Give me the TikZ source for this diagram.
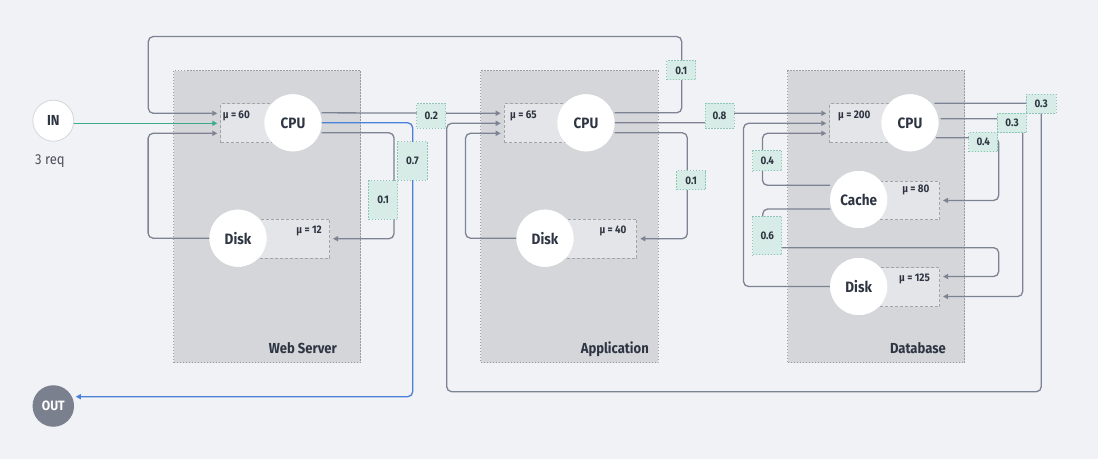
\documentclass[tikz,border=0pt]{standalone}
\usepackage{fontspec}
\setmainfont{Fira Sans}[FakeStretch=0.9, BoldFont={Fira Sans Bold}]
\usetikzlibrary{arrows.meta,calc}

\definecolor{bg}{HTML}{F0F2F6}
\definecolor{panelfill}{HTML}{D5D6DA}
\definecolor{panelline}{HTML}{9A9CA3}
\definecolor{mufill}{HTML}{E4E5E9}
\definecolor{muline}{HTML}{A2A4AB}
\definecolor{wire}{HTML}{7C8392}
\definecolor{tealwire}{RGB}{60,168,140}
\definecolor{outwire}{HTML}{4B80D6}
\definecolor{probfill}{HTML}{D7ECE6}
\definecolor{probline}{HTML}{8CC6B6}
\definecolor{ink}{HTML}{2E3542}
\definecolor{outfill}{HTML}{7A808E}
\definecolor{inborder}{HTML}{D3D6DD}
\definecolor{subtext}{HTML}{4B505B}

\tikzset{
  panel/.style={draw=panelline, fill=panelfill, line width=1pt,
    dash pattern=on 1.5pt off 1.5pt, inner sep=0pt, anchor=north west},
  mubox/.style={draw=muline, fill=mufill, line width=1pt,
    dash pattern=on 3pt off 2pt, inner sep=0pt, anchor=north west,
    minimum width=80pt, minimum height=39pt},
  mutext/.style={text=ink, font=\bfseries\fontsize{11}{13}\selectfont, inner sep=0pt},
  title/.style={text=ink, font=\bfseries\fontsize{14.5}{17}\selectfont, inner sep=0pt, anchor=base east},
  station/.style={circle, fill=white, inner sep=0pt, minimum size=57pt,
    text=ink, font=\bfseries\fontsize{15}{18}\selectfont},
  prob/.style={draw=probline, fill=probfill, line width=1pt,
    dash pattern=on 1.5pt off 1.5pt, inner sep=0pt,
    text=ink, font=\bfseries\fontsize{11}{13}\selectfont},
  flow/.style={draw=wire, line width=1.3pt, rounded corners=5pt,
    -{Triangle[length=5pt,width=5pt]}, shorten >=3pt},
  departures/.style={draw=outwire, line width=1.3pt, rounded corners=5pt,
    -{Triangle[length=5pt,width=5pt]}},
}

\begin{document}
\begin{tikzpicture}[x=1pt,y=-1pt]
\fill[bg] (0,0) rectangle (1098,459);
\useasboundingbox (0,0) rectangle (1098,459);

% tiers
\node[panel, minimum width=187pt, minimum height=292pt] (webPanel) at (173,70) {};
\node[panel, minimum width=177.5pt, minimum height=292pt] (appPanel) at (480,70) {};
\node[panel, minimum width=177pt, minimum height=292pt] (dbPanel) at (787,70) {};

\node[title] (webTitle) at (337,353) {Web Server};
\node[title] (appTitle) at (649,353) {Application};
\node[title] (dbTitle) at (946,353) {Database};

% service-rate boxes
\node[mubox] (muCpuW) at (220.3,103.3) {};
\node[mubox] (muDiskW) at (249,218.7) {};
\node[mubox] (muCpuA) at (503.7,103.3) {};
\node[mubox] (muDiskA) at (556.3,218.7) {};
\node[mubox] (muCpuD) at (829.3,103.3) {};
\node[mubox, minimum height=38.5pt] (muCacheD) at (859,180.7) {};
\node[mubox] (muDiskD) at (859,267) {};

\node[mutext, anchor=west] (muTxtCpuW) at (222.7,116) {μ = 60};
\node[mutext, anchor=east] (muTxtDiskW) at (322,231) {μ = 12};
\node[mutext, anchor=west] (muTxtCpuA) at (510,116) {μ = 65};
\node[mutext, anchor=east] (muTxtDiskA) at (626.7,231) {μ = 40};
\node[mutext, anchor=west] (muTxtCpuD) at (838,116) {μ = 200};
\node[mutext, anchor=east] (muTxtCacheD) at (929.7,189.5) {μ = 80};
\node[mutext, anchor=east] (muTxtDiskD) at (930,279) {μ = 125};

% station centres
\path (293,122.8) coordinate (cpuWc) (238,238.2) coordinate (diskWc)
      (586,122.8) coordinate (cpuAc) (545,238.2) coordinate (diskAc)
      (910,122.8) coordinate (cpuDc) (858.7,199.5) coordinate (cacheDc)
      (858.7,286.5) coordinate (diskDc);
\node[station] (cpuW) at (cpuWc) {};
\node[station] (diskW) at (diskWc) {};
\node[station] (cpuA) at (cpuAc) {};
\node[station] (diskA) at (diskAc) {};
\node[station] (cpuD) at (cpuDc) {};
\node[station] (cacheD) at (cacheDc) {};
\node[station] (diskD) at (diskDc) {};

\node[circle, fill=white, draw=inborder, line width=0.8pt, inner sep=0pt, minimum size=41pt,
      text=ink, font=\bfseries\fontsize{14.5}{17}\selectfont] (src) at (53.3,120.7) {IN};
\node[text=subtext, font=\fontsize{14.5}{17}\selectfont, inner sep=0pt] (srcRate) at (50,161.5) {3 req};
\node[circle, fill=outfill, inner sep=0pt, minimum size=41.5pt,
      text=white, font=\bfseries\fontsize{13.5}{16}\selectfont] (sink) at (53.3,406) {OUT};

\path (719.5,115.7) coordinate (p08c);

% wires
\draw[flow] ($(cpuA.east)+(0,-10)$) -| (681.7,36.5) -- (148.3,36.5) |- ($(muCpuW.west)+(0,-10)$);
\draw[flow] (diskW.west) -- ++(-61.2,0) |- ($(muCpuW.west)+(0,10)$);
\draw[flow] ($(cpuW.east)+(0,-10)$) -- ($(muCpuA.west)+(0,-10)$);
\draw[departures] (cpuW.east) -| (412.7,396.7) -- ($(sink.center)+(22.5,-9.3)$);
\draw[flow] ($(cpuW.east)+(0,10)$) -| ($(muDiskW.east)+(64,0)$) -- (muDiskW.east);

\draw[flow] ($(cpuDc)+(24.3,-19.5)$) -| (1041.3,391.7) -| ($(muCpuA.west)+(-57,0)$) -- (muCpuA.west);
\draw[flow] (diskA.west) -- ++(-50.8,0) |- ($(muCpuA.west)+(0,10)$);
\draw[flow] (cpuA.east) -| (p08c) |- ($(muCpuD.west)+(0,-10)$);
\draw[flow] ($(cpuA.east)+(0,10)$) -| ($(muDiskA.east)+(50,0)$) -- (muDiskA.east);

\draw[flow] ($(cacheD.west)+(0,-14.2)$) -- ++(-67.5,0) |- ($(muCpuD.west)+(0,10)$);
\draw[flow] (diskD.west) -- ++(-86.5,0) |- (muCpuD.west);
\draw[flow] ($(cpuDc)+(26,14.9)$) -| ($(muCacheD.east)+(58.7,0)$) -- (muCacheD.east);
\draw[flow] ($(cpuD.east)+(2,-4.1)$) -| ($(muDiskD.east)+(82.7,9.5)$) -- ($(muDiskD.east)+(0,9.5)$);
\draw[flow] ($(cacheD.west)+(0,9.5)$) -| (762.7,247.7) -| ($(muDiskD.east)+(58.7,-10.5)$) -- ($(muDiskD.east)+(0,-10.5)$);

% arrivals from the source
\draw[line width=1.5pt, tealwire, -{Triangle[length=5pt,width=5pt]}, shorten >=3pt]
  (src.east |- muCpuW.west) -- (muCpuW.west);

% probability tags
\node[prob, minimum width=29.3pt, minimum height=19.3pt] (pTop01) at (681.3,70.3) {0.1};
\node[prob, minimum width=29.3pt, minimum height=24.3pt] (p02) at (431.3,116) {0.2};
\node[prob, minimum width=29.6pt, minimum height=38.3pt] (p07) at (412.5,161) {0.7};
\node[prob, minimum width=29pt, minimum height=38.6pt] (pW01) at (383.2,200) {0.1};
\node[prob, minimum width=29pt, minimum height=19.3pt] (pA01) at (691.2,180.3) {0.1};
\node[prob, minimum width=29pt, minimum height=24.7pt] (p08) at (p08c) {0.8};
\node[prob, minimum width=29.3pt, minimum height=20.3pt] (pC04) at (767.3,160.8) {0.4};
\node[prob, minimum width=29.3pt, minimum height=38.3pt] (p06) at (767.3,235.8) {0.6};
\node[prob, minimum width=29pt, minimum height=19.4pt] (pD04) at (983.2,142) {0.4};
\node[prob, minimum width=29.4pt, minimum height=19.4pt] (pD03) at (1012,123) {0.3};
\node[prob, minimum width=29.7pt, minimum height=19.3pt] (pX03) at (1041.2,103.7) {0.3};

% station discs on top of the wires
\node[station] at (cpuWc) {CPU};
\node[station] at (diskWc) {Disk};
\node[station] at (cpuAc) {CPU};
\node[station] at (diskAc) {Disk};
\node[station] at (cpuDc) {CPU};
\node[station] at (cacheDc) {Cache};
\node[station] at (diskDc) {Disk};
\end{tikzpicture}
\end{document}
